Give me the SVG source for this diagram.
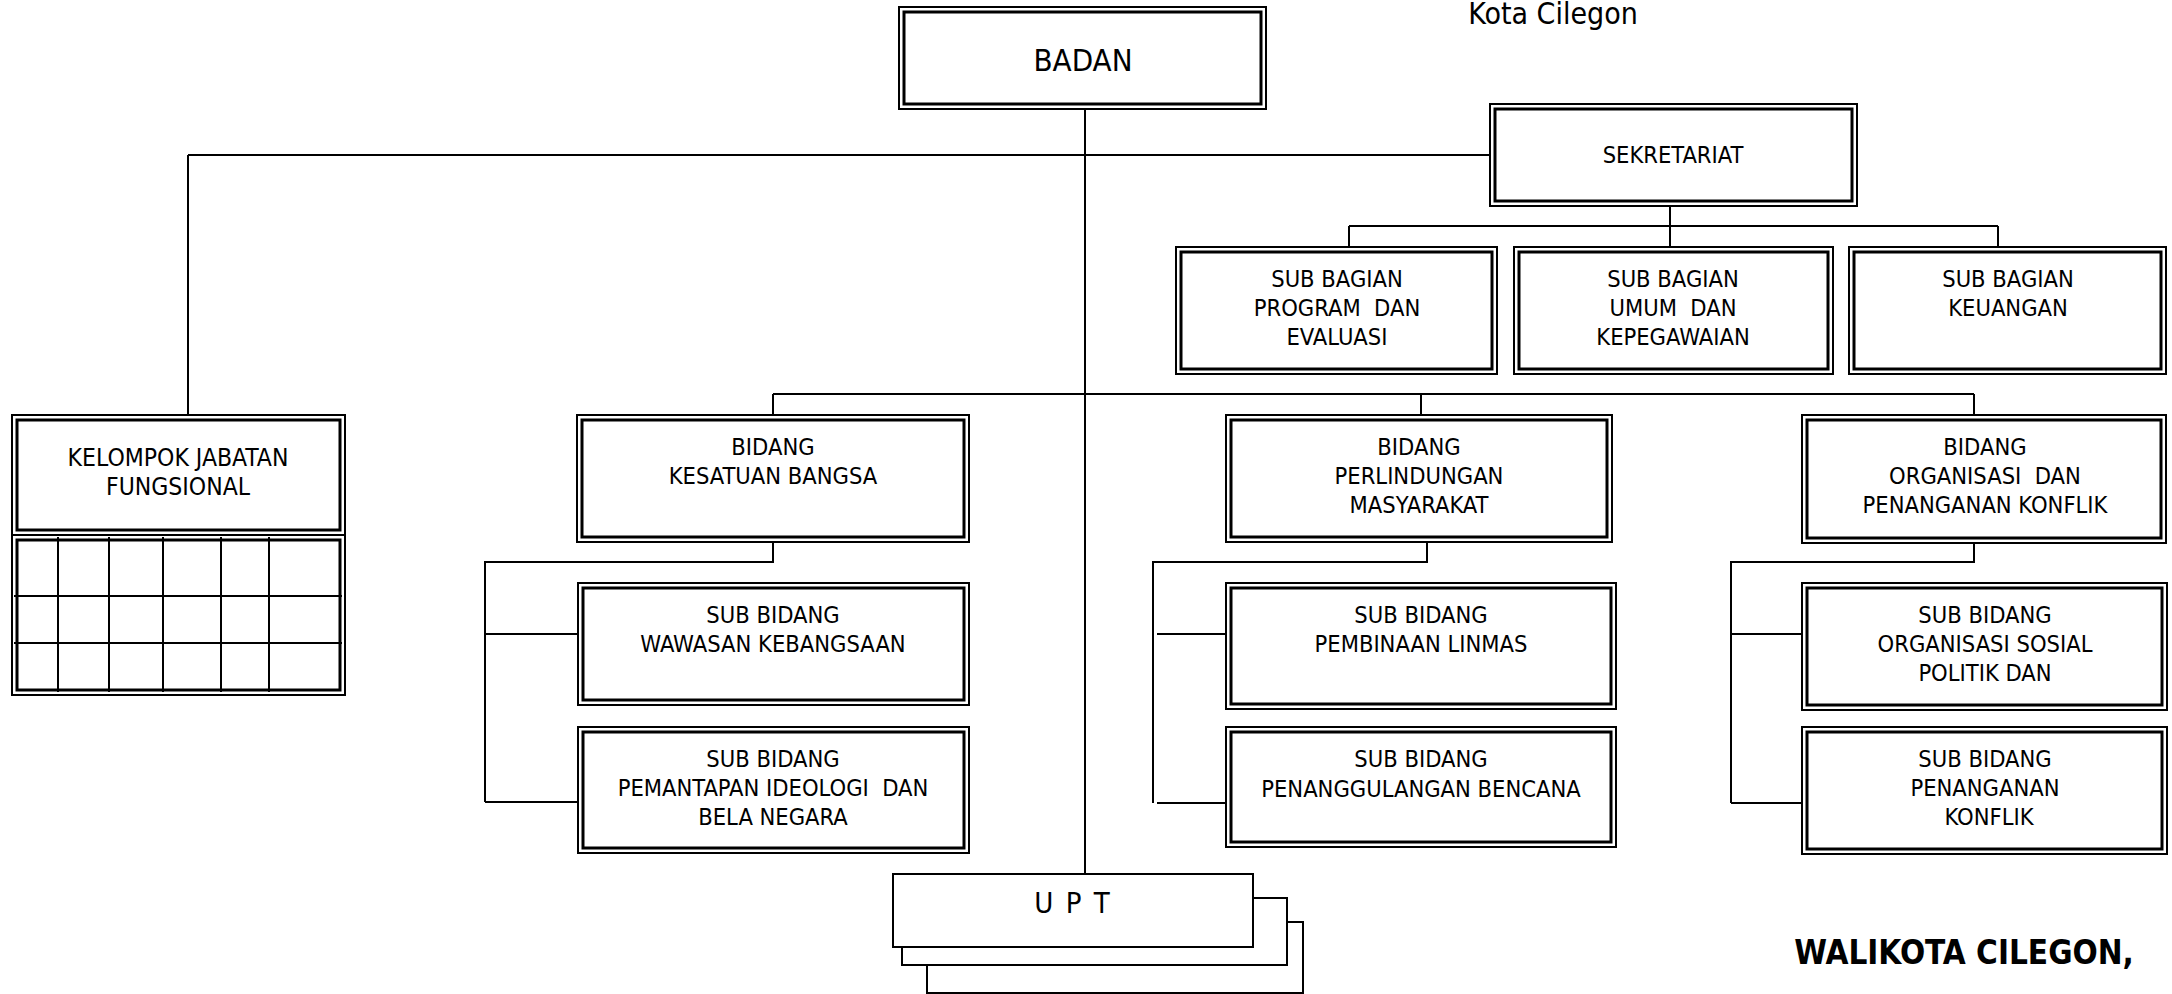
<svg xmlns="http://www.w3.org/2000/svg" width="2172" height="994" viewBox="0 0 2172 994">
<style>
.o{fill:#fff;stroke:#000;stroke-width:2}
.i{fill:none;stroke:#000;stroke-width:3}
.s{fill:#fff;stroke:#000;stroke-width:2}
.c{fill:none;stroke:#000;stroke-width:2}
text{font-family:"DejaVu Sans Condensed","DejaVu Sans",sans-serif;font-stretch:condensed;fill:#000;text-anchor:middle;white-space:pre}
.t{font-size:23.5px}
</style>
<rect width="2172" height="994" fill="#fff"/>
<text x="1553" y="24" style="font-size:30px">Kota Cilegon</text>
<g id="connectors">
<path class="c" d="M1085 109V874M188 155H1490M188 155V415M1670 206V226M1349 226H1998M1349 226V247M1670 226V247M1998 226V247M773 394H1974M773 394V415M1421 394V415M1974 394V415"/>
<path class="c" d="M773 542V562H485V802M485 634H578M485 802H578"/>
<path class="c" d="M1427 542V562H1153V803M1157 634H1226M1157 803H1226"/>
<path class="c" d="M1974 543V562H1731V803M1731 634H1802M1731 803H1802"/>
</g>
<g id="badan"><rect class="o" x="899" y="7" width="367" height="102"/><rect class="i" x="904" y="12" width="357" height="92"/><text x="1083" y="71" style="font-size:31px">BADAN</text></g>
<g id="sekretariat"><rect class="o" x="1490" y="104" width="367" height="102"/><rect class="i" x="1495" y="109" width="357" height="92"/><text class="t" x="1673" y="163">SEKRETARIAT</text></g>
<g id="sb-program"><rect class="o" x="1176" y="247" width="321" height="127"/><rect class="i" x="1181" y="252" width="311" height="117"/><text class="t" x="1337" y="287">SUB BAGIAN</text><text class="t" x="1337" y="316">PROGRAM  DAN</text><text class="t" x="1337" y="345">EVALUASI</text></g>
<g id="sb-umum"><rect class="o" x="1514" y="247" width="319" height="127"/><rect class="i" x="1519" y="252" width="309" height="117"/><text class="t" x="1673" y="287">SUB BAGIAN</text><text class="t" x="1673" y="316">UMUM  DAN</text><text class="t" x="1673" y="345">KEPEGAWAIAN</text></g>
<g id="sb-keuangan"><rect class="o" x="1849" y="247" width="317" height="127"/><rect class="i" x="1854" y="252" width="307" height="117"/><text class="t" x="2008" y="287">SUB BAGIAN</text><text class="t" x="2008" y="316">KEUANGAN</text></g>
<g id="kelompok">
<rect class="o" x="12" y="415" width="333" height="120"/><rect class="i" x="17" y="420" width="323" height="110"/>
<rect class="o" x="12" y="535" width="333" height="160"/><rect class="i" x="17" y="540" width="323" height="150"/>
<path class="c" d="M58 537V692M109 537V692M163 537V692M221 537V692M269 537V692M14 596H342M14 643H342"/>
<text class="t" x="178" y="466" style="font-size:24.5px">KELOMPOK JABATAN</text><text class="t" x="178" y="495" style="font-size:24.5px">FUNGSIONAL</text>
</g>
<g id="bidang-kesatuan"><rect class="o" x="577" y="415" width="392" height="127"/><rect class="i" x="582" y="420" width="382" height="117"/><text class="t" x="773" y="455">BIDANG</text><text class="t" x="773" y="484">KESATUAN BANGSA</text></g>
<g id="sub-wawasan"><rect class="o" x="578" y="583" width="391" height="122"/><rect class="i" x="583" y="588" width="381" height="112"/><text class="t" x="773" y="623">SUB BIDANG</text><text class="t" x="773" y="652">WAWASAN KEBANGSAAN</text></g>
<g id="sub-pemantapan"><rect class="o" x="578" y="727" width="391" height="126"/><rect class="i" x="583" y="732" width="381" height="116"/><text class="t" x="773" y="767">SUB BIDANG</text><text class="t" x="773" y="796">PEMANTAPAN IDEOLOGI  DAN</text><text class="t" x="773" y="825">BELA NEGARA</text></g>
<g id="bidang-perlindungan"><rect class="o" x="1226" y="415" width="386" height="127"/><rect class="i" x="1231" y="420" width="376" height="117"/><text class="t" x="1419" y="455">BIDANG</text><text class="t" x="1419" y="484">PERLINDUNGAN</text><text class="t" x="1419" y="513">MASYARAKAT</text></g>
<g id="sub-pembinaan"><rect class="o" x="1226" y="583" width="390" height="126"/><rect class="i" x="1231" y="588" width="380" height="116"/><text class="t" x="1421" y="623">SUB BIDANG</text><text class="t" x="1421" y="652">PEMBINAAN LINMAS</text></g>
<g id="sub-penanggulangan"><rect class="o" x="1226" y="727" width="390" height="120"/><rect class="i" x="1231" y="732" width="380" height="110"/><text class="t" x="1421" y="767">SUB BIDANG</text><text class="t" x="1421" y="797">PENANGGULANGAN BENCANA</text></g>
<g id="bidang-organisasi"><rect class="o" x="1802" y="415" width="364" height="128"/><rect class="i" x="1807" y="420" width="354" height="118"/><text class="t" x="1985" y="455">BIDANG</text><text class="t" x="1985" y="484">ORGANISASI  DAN</text><text class="t" x="1985" y="513">PENANGANAN KONFLIK</text></g>
<g id="sub-orsospol"><rect class="o" x="1802" y="583" width="365" height="127"/><rect class="i" x="1807" y="588" width="355" height="117"/><text class="t" x="1985" y="623">SUB BIDANG</text><text class="t" x="1985" y="652">ORGANISASI SOSIAL</text><text class="t" x="1985" y="681">POLITIK DAN</text></g>
<g id="sub-penanganan"><rect class="o" x="1802" y="727" width="365" height="127"/><rect class="i" x="1807" y="732" width="355" height="117"/><text class="t" x="1985" y="767">SUB BIDANG</text><text class="t" x="1985" y="796">PENANGANAN</text><text class="t" x="1989" y="825">KONFLIK</text></g>
<g id="upt">
<rect class="s" x="927" y="922" width="376" height="71"/>
<rect class="s" x="902" y="898" width="385" height="67"/>
<rect class="s" x="893" y="874" width="360" height="73"/>
<text x="1073" y="913" style="font-size:29px;letter-spacing:2px">U P T</text>
</g>
<text x="1964" y="964" style="font-size:33px;font-weight:bold">WALIKOTA CILEGON,</text>
</svg>
